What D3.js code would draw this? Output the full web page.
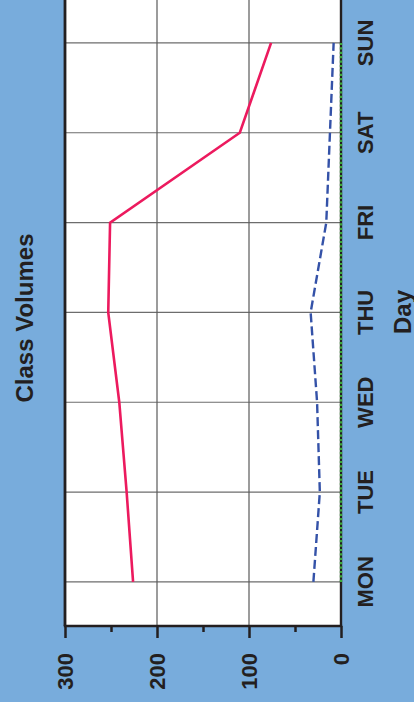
<!DOCTYPE html>
<html>
<head>
<meta charset="utf-8">
<script src="https://cdn.jsdelivr.net/npm/d3@7/dist/d3.min.js"></script>
<style>
  html, body { margin: 0; padding: 0; background: #78acdc; }
  svg { display: block; }
  text { font-family: "Liberation Sans", Arial, sans-serif; font-weight: bold; fill: #231f20; }
</style>
</head>
<body>
<svg id="chart" width="414" height="702"></svg>
<script>
// Data
const days = ["MON", "TUE", "WED", "THU", "FRI", "SAT", "SUN"];
const seriesA = [226, 233, 241, 253, 251, 110, 76];
const seriesB = [30, 23, 26, 33, 16, 12, 8];
const seriesC = [0, 0, 0, 0, 0, 0, 0];
const majorTicks = [0, 100, 200, 300];
const minorTicks = [50, 150, 250];
const titleText = "Class Volumes";
const axisTitleText = "Day";

const W = 702, H = 414; // chart drawn in landscape, then turned a quarter turn
const svg = d3.select("#chart");
const g = svg.append("g").attr("transform", "translate(0,702) rotate(-90)");

const plot = { left: 76, right: 704, top: 65, bottom: 341 };

const x = d3.scaleBand().domain(days).range([plot.left - 0.8, plot.right]).padding(0);
const y = d3.scaleLinear().domain([0, 300]).range([plot.bottom, plot.top]);
const cx = d => x(d) + x.bandwidth() / 2;

// plot background
g.append("rect")
  .attr("x", plot.left).attr("y", plot.top)
  .attr("width", plot.right - plot.left).attr("height", plot.bottom - plot.top)
  .attr("fill", "#ffffff");

// gridlines at each day
g.append("g").selectAll("line").data(days).join("line")
  .attr("x1", d => cx(d)).attr("x2", d => cx(d))
  .attr("y1", plot.top).attr("y2", plot.bottom)
  .attr("stroke", "#6d6d6d").attr("stroke-width", 1.2);

// gridlines at values
g.append("g").selectAll("line").data([100, 200]).join("line")
  .attr("x1", plot.left).attr("x2", plot.right)
  .attr("y1", d => y(d)).attr("y2", d => y(d))
  .attr("stroke", "#5a5a5a").attr("stroke-width", 1.2);

// value axis: major and minor ticks
const yAxis = g.append("g").attr("transform", `translate(${plot.left},0)`)
  .call(d3.axisLeft(y).tickValues(majorTicks).tickSize(12).tickPadding(15).tickFormat(d3.format("d")));
yAxis.select(".domain").remove();
yAxis.selectAll(".tick line").attr("stroke", "#231f20").attr("stroke-width", 2.5);
yAxis.selectAll(".tick text").attr("font-size", 22).style("font-family", "'Liberation Sans', Arial, sans-serif").attr("fill", "#231f20");

const yMinor = g.append("g").attr("transform", `translate(${plot.left},0)`)
  .call(d3.axisLeft(y).tickValues(minorTicks).tickSize(6).tickFormat(""));
yMinor.select(".domain").remove();
yMinor.selectAll(".tick line").attr("stroke", "#231f20").attr("stroke-width", 2.5);

// day axis labels
const xAxis = g.append("g").attr("transform", `translate(0,${plot.bottom})`)
  .call(d3.axisBottom(x).tickSize(0).tickPadding(16));
xAxis.select(".domain").remove();
xAxis.selectAll(".tick text").attr("font-size", 22).style("font-family", "'Liberation Sans', Arial, sans-serif").attr("fill", "#231f20");

// plot frame
g.append("line").attr("x1", plot.left).attr("x2", plot.left)
  .attr("y1", plot.top - 1.2).attr("y2", plot.bottom + 1.2)
  .attr("stroke", "#231f20").attr("stroke-width", 2.6);
g.append("line").attr("x1", plot.left).attr("x2", plot.right)
  .attr("y1", plot.top).attr("y2", plot.top)
  .attr("stroke", "#231f20").attr("stroke-width", 2.8);
g.append("line").attr("x1", plot.left).attr("x2", plot.right)
  .attr("y1", plot.bottom).attr("y2", plot.bottom)
  .attr("stroke", "#231f20").attr("stroke-width", 2.4);

// series
const line = d3.line().x((d, i) => cx(days[i])).y(d => y(d));

g.append("path").datum(seriesC).attr("d", line)
  .attr("fill", "none").attr("stroke", "#3cab3a").attr("stroke-width", 2.4)
  .attr("stroke-dasharray", "2.2,2.2");

g.append("path").datum(seriesB).attr("d", line)
  .attr("fill", "none").attr("stroke", "#3452a8").attr("stroke-width", 2.4)
  .attr("stroke-dasharray", "9,4");

g.append("path").datum(seriesA).attr("d", line)
  .attr("fill", "none").attr("stroke", "#ec1a5e").attr("stroke-width", 2.6)
  .attr("stroke-linejoin", "miter");

// titles
g.append("text").attr("x", 384).attr("y", 33)
  .attr("text-anchor", "middle").attr("font-size", 24).text(titleText);
g.append("text").attr("x", (plot.left + plot.right) / 2).attr("y", 411)
  .attr("text-anchor", "middle").attr("font-size", 24).text(axisTitleText);
</script>
</body>
</html>
